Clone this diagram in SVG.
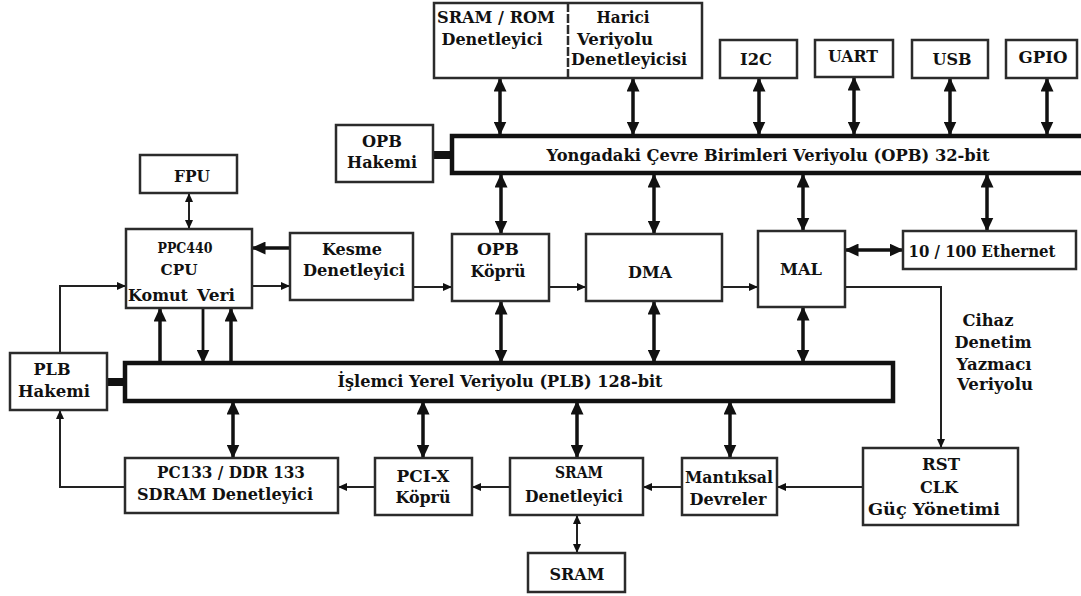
<svg xmlns="http://www.w3.org/2000/svg" width="1081" height="596" viewBox="0 0 1081 596">
  <style>
    .box { fill: #fff; stroke: #2b2b2b; stroke-width: 2.5; }
    .bus { fill: #fff; stroke: #111; stroke-width: 4.5; }
    .tie { fill: #111; }
    .t { font-family: "DejaVu Serif", "Liberation Serif", serif; font-weight: bold; font-size: 17px; fill: #111; text-anchor: middle; }
    .s { font-size: 14px; }
    .thick { stroke: #111; stroke-width: 3.5; fill: none; }
    .mid { stroke: #111; stroke-width: 2.8; fill: none; }
    .thin { stroke: #222; stroke-width: 2; fill: none; }
    .dbl { marker-start: url(#big); marker-end: url(#big); }
    .one { marker-end: url(#big); }
    .sdbl { marker-start: url(#small); marker-end: url(#small); }
    .sone { marker-end: url(#small); }
  </style>
  <defs>
    <marker id="big" viewBox="0 0 14 13" refX="12.5" refY="6.5" markerWidth="14" markerHeight="13" markerUnits="userSpaceOnUse" orient="auto-start-reverse">
      <path d="M0,0 L14,6.5 L0,13 z" fill="#111"/>
    </marker>
    <marker id="small" viewBox="0 0 9 8" refX="8" refY="4" markerWidth="9" markerHeight="8" markerUnits="userSpaceOnUse" orient="auto-start-reverse">
      <path d="M0,0 L9,4 L0,8 z" fill="#111"/>
    </marker>
  </defs>

  <!-- connectors -->
  <g id="connectors">
    <!-- OPB bus taps -->
    <line class="thick dbl" x1="500" y1="79" x2="500" y2="134"/>
    <line class="thick dbl" x1="633" y1="79" x2="633" y2="134"/>
    <line class="thick dbl" x1="759" y1="79" x2="759" y2="134"/>
    <line class="thick dbl" x1="854" y1="78" x2="854" y2="134"/>
    <line class="thick dbl" x1="950" y1="79" x2="950" y2="134"/>
    <line class="thick dbl" x1="1047" y1="79" x2="1047" y2="134"/>
    <line class="thick dbl" x1="501" y1="175" x2="501" y2="233"/>
    <line class="thick dbl" x1="654" y1="175" x2="654" y2="233"/>
    <line class="thick dbl" x1="803" y1="175" x2="803" y2="230"/>
    <line class="thick dbl" x1="987" y1="175" x2="987" y2="230"/>
    <line class="thick dbl" x1="846" y1="250" x2="902" y2="250"/>
    <!-- PLB bus taps -->
    <line class="thick dbl" x1="501" y1="302" x2="501" y2="362"/>
    <line class="thick dbl" x1="654" y1="302" x2="654" y2="362"/>
    <line class="thick dbl" x1="803" y1="308" x2="803" y2="362"/>
    <line class="thick dbl" x1="233" y1="402" x2="233" y2="457"/>
    <line class="thick dbl" x1="423" y1="402" x2="423" y2="457"/>
    <line class="thick dbl" x1="577" y1="402" x2="577" y2="457"/>
    <line class="thick dbl" x1="730" y1="402" x2="730" y2="457"/>
    <!-- CPU ports -->
    <line class="thick one" x1="290" y1="248" x2="253" y2="248"/>
    <line class="thick one" x1="160" y1="362" x2="160" y2="309"/>
    <line class="mid one" x1="203" y1="309" x2="203" y2="362"/>
    <line class="thick one" x1="231" y1="362" x2="231" y2="309"/>
    <line class="thin sdbl" x1="189" y1="194" x2="189" y2="228"/>
    <!-- control paths -->
    <path class="thin sone" d="M60,353 V286 H125"/>
    <line class="thin sone" x1="252" y1="286" x2="289" y2="286"/>
    <line class="thin sone" x1="413" y1="287" x2="451" y2="287"/>
    <line class="thin sone" x1="549" y1="287" x2="585" y2="287"/>
    <line class="thin sone" x1="722" y1="287" x2="757" y2="287"/>
    <path class="thin sone" d="M845,287 H941 V447"/>
    <line class="thin sone" x1="863" y1="487" x2="778" y2="487"/>
    <line class="thin sone" x1="682" y1="487" x2="644" y2="487"/>
    <line class="thin sone" x1="510" y1="487" x2="473" y2="487"/>
    <line class="thin sone" x1="375" y1="487" x2="339" y2="487"/>
    <path class="thin sone" d="M125,487 H60 V411"/>
    <line class="thin sdbl" x1="577" y1="516" x2="577" y2="552"/>
    <!-- arbiter ties -->
    <rect class="tie" x="433" y="151" width="20" height="8"/>
    <rect class="tie" x="107" y="378" width="19" height="8"/>
    <text class="t" x="988" y="326" textLength="51" lengthAdjust="spacingAndGlyphs">Cihaz</text>
    <text class="t" x="993" y="348" textLength="77" lengthAdjust="spacingAndGlyphs">Denetim</text>
    <text class="t" x="994" y="370" textLength="75" lengthAdjust="spacingAndGlyphs">Yazmacı</text>
    <text class="t" x="995" y="390" textLength="76" lengthAdjust="spacingAndGlyphs">Veriyolu</text>
  </g>

  <!-- buses -->
  <g id="opb-bus">
    <rect class="bus" x="452" y="136" width="640" height="37"/>
    <text class="t" x="768" y="161" textLength="443" lengthAdjust="spacingAndGlyphs">Yongadaki Çevre Birimleri Veriyolu (OPB) 32-bit</text>
  </g>
  <g id="plb-bus">
    <rect class="bus" x="125" y="363" width="768" height="38"/>
    <text class="t" x="500" y="387" textLength="325" lengthAdjust="spacingAndGlyphs">İşlemci Yerel Veriyolu (PLB) 128-bit</text>
  </g>

  <!-- nodes -->
  <g id="sram-rom-ebc">
    <rect class="box" x="434" y="3" width="268" height="75"/>
    <line x1="568" y1="3" x2="568" y2="78" stroke="#2b2b2b" stroke-width="2.5" stroke-dasharray="9,2"/>
    <text class="t" x="496" y="23" textLength="118" lengthAdjust="spacingAndGlyphs">SRAM / ROM</text>
    <text class="t" x="492" y="45" textLength="101" lengthAdjust="spacingAndGlyphs">Denetleyici</text>
    <text class="t" x="623" y="23" textLength="53" lengthAdjust="spacingAndGlyphs">Harici</text>
    <text class="t" x="615" y="45" textLength="76" lengthAdjust="spacingAndGlyphs">Veriyolu</text>
    <text class="t" x="629" y="65" textLength="116" lengthAdjust="spacingAndGlyphs">Denetleyicisi</text>
  </g>
  <g id="i2c">
    <rect class="box" x="720" y="40" width="77" height="38"/>
    <text class="t" x="756" y="65" textLength="32" lengthAdjust="spacingAndGlyphs">I2C</text>
  </g>
  <g id="uart">
    <rect class="box" x="815" y="40" width="78" height="37"/>
    <text class="t" x="853" y="62" textLength="50" lengthAdjust="spacingAndGlyphs">UART</text>
  </g>
  <g id="usb">
    <rect class="box" x="912" y="40" width="76" height="38"/>
    <text class="t" x="952" y="65" textLength="39" lengthAdjust="spacingAndGlyphs">USB</text>
  </g>
  <g id="gpio">
    <rect class="box" x="1006" y="40" width="71" height="38"/>
    <text class="t" x="1043" y="63" textLength="49" lengthAdjust="spacingAndGlyphs">GPIO</text>
  </g>
  <g id="opb-arbiter">
    <rect class="box" x="336" y="125" width="97" height="57"/>
    <text class="t" x="382" y="147" textLength="40" lengthAdjust="spacingAndGlyphs">OPB</text>
    <text class="t" x="382" y="168" textLength="70" lengthAdjust="spacingAndGlyphs">Hakemi</text>
  </g>
  <g id="fpu">
    <rect class="box" x="140" y="155" width="97" height="38"/>
    <text class="t" x="192" y="182" textLength="36" lengthAdjust="spacingAndGlyphs">FPU</text>
  </g>
  <g id="cpu">
    <rect class="box" x="126" y="229" width="126" height="79"/>
    <text class="t s" x="185" y="253" textLength="55" lengthAdjust="spacingAndGlyphs">PPC440</text>
    <text class="t s" x="179" y="275" textLength="37" lengthAdjust="spacingAndGlyphs">CPU</text>
    <text class="t" x="158" y="301" textLength="60" lengthAdjust="spacingAndGlyphs">Komut</text>
    <text class="t" x="216" y="301" textLength="38" lengthAdjust="spacingAndGlyphs">Veri</text>
  </g>
  <g id="interrupt-controller">
    <rect class="box" x="290" y="233" width="123" height="67"/>
    <text class="t" x="352" y="255" textLength="60" lengthAdjust="spacingAndGlyphs">Kesme</text>
    <text class="t" x="354" y="276" textLength="102" lengthAdjust="spacingAndGlyphs">Denetleyici</text>
  </g>
  <g id="opb-bridge">
    <rect class="box" x="452" y="234" width="97" height="67"/>
    <text class="t" x="498" y="255" textLength="42" lengthAdjust="spacingAndGlyphs">OPB</text>
    <text class="t" x="498" y="277" textLength="55" lengthAdjust="spacingAndGlyphs">Köprü</text>
  </g>
  <g id="dma">
    <rect class="box" x="586" y="234" width="136" height="67"/>
    <text class="t" x="650" y="278" textLength="44" lengthAdjust="spacingAndGlyphs">DMA</text>
  </g>
  <g id="mal">
    <rect class="box" x="758" y="231" width="87" height="76"/>
    <text class="t" x="801" y="275" textLength="42" lengthAdjust="spacingAndGlyphs">MAL</text>
  </g>
  <g id="ethernet">
    <rect class="box" x="903" y="231" width="173" height="38"/>
    <text class="t" x="982" y="257" textLength="147" lengthAdjust="spacingAndGlyphs">10 / 100 Ethernet</text>
  </g>
  <g id="plb-arbiter">
    <rect class="box" x="10" y="353" width="97" height="57"/>
    <text class="t" x="52" y="375" textLength="37" lengthAdjust="spacingAndGlyphs">PLB</text>
    <text class="t" x="54" y="397" textLength="72" lengthAdjust="spacingAndGlyphs">Hakemi</text>
  </g>
  <g id="sdram-controller">
    <rect class="box" x="125" y="458" width="213" height="55"/>
    <text class="t" x="231" y="478" textLength="148" lengthAdjust="spacingAndGlyphs">PC133 / DDR 133</text>
    <text class="t" x="225" y="500" textLength="176" lengthAdjust="spacingAndGlyphs">SDRAM Denetleyici</text>
  </g>
  <g id="pcix-bridge">
    <rect class="box" x="375" y="458" width="97" height="57"/>
    <text class="t" x="423" y="482" textLength="53" lengthAdjust="spacingAndGlyphs">PCI-X</text>
    <text class="t" x="423" y="503" textLength="55" lengthAdjust="spacingAndGlyphs">Köprü</text>
  </g>
  <g id="sram-controller">
    <rect class="box" x="510" y="458" width="133" height="57"/>
    <text class="t" x="579" y="478" textLength="48" lengthAdjust="spacingAndGlyphs">SRAM</text>
    <text class="t" x="574" y="502" textLength="98" lengthAdjust="spacingAndGlyphs">Denetleyici</text>
  </g>
  <g id="logic">
    <rect class="box" x="682" y="458" width="95" height="57"/>
    <text class="t" x="729" y="483" textLength="88" lengthAdjust="spacingAndGlyphs">Mantıksal</text>
    <text class="t" x="728" y="505" textLength="77" lengthAdjust="spacingAndGlyphs">Devreler</text>
  </g>
  <g id="rst-clk-power">
    <rect class="box" x="863" y="448" width="155" height="77"/>
    <text class="t" x="941" y="470" textLength="38" lengthAdjust="spacingAndGlyphs">RST</text>
    <text class="t" x="939" y="493" textLength="38" lengthAdjust="spacingAndGlyphs">CLK</text>
    <text class="t" x="934" y="515" textLength="132" lengthAdjust="spacingAndGlyphs">Güç Yönetimi</text>
  </g>
  <g id="sram">
    <rect class="box" x="528" y="553" width="97" height="39"/>
    <text class="t" x="577" y="580" textLength="55" lengthAdjust="spacingAndGlyphs">SRAM</text>
  </g>
</svg>
